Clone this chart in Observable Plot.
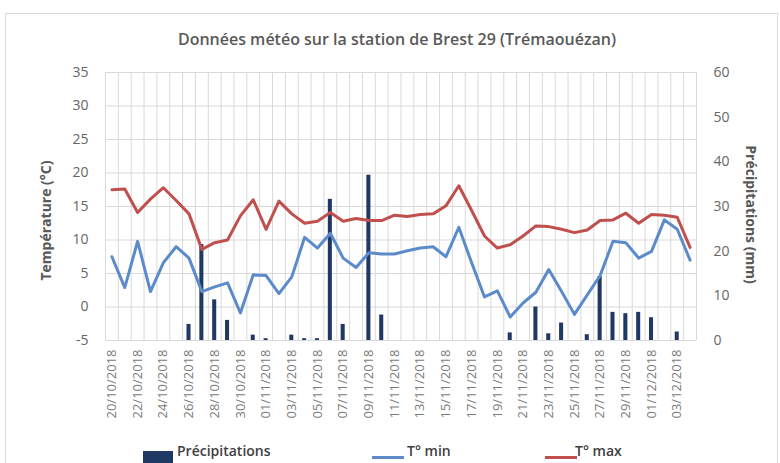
<!DOCTYPE html>
<html><head><meta charset="utf-8">
<script src="https://cdn.jsdelivr.net/npm/d3@7"></script>
<script src="https://cdn.jsdelivr.net/npm/@observablehq/plot@0.6"></script>
<style>
html,body{margin:0;padding:0;background:#fff;overflow:hidden}
#wrap{position:relative;width:780px;height:463px;overflow:hidden;font-family:"Open Sans",sans-serif}
#frame{position:absolute;left:5px;top:13px;width:773px;height:470px;border:1px solid #d9d9d9;box-sizing:border-box}
#chart{position:absolute;left:0;top:0}
#title{position:absolute;left:0;width:794px;top:28px;text-align:center;font-size:16px;font-weight:600;color:#595959;white-space:nowrap}
.ytitle{position:absolute;font-size:14px;font-weight:700;color:#595959;white-space:nowrap;transform-origin:center center}
.leg{position:absolute;top:441px;font-size:14px;font-weight:600;color:#404040;line-height:20px;white-space:nowrap}
.sw{position:absolute}
</style>
</head><body>
<div id="wrap">
  <div id="frame"></div>
  <div id="chart"></div>
  <div id="title"></div>
  <div id="ytl" class="ytitle"></div>
  <div id="ytr" class="ytitle"></div>
  <div id="legend"></div>
</div>
<script>
const dates = ["20/10/2018","21/10/2018","22/10/2018","23/10/2018","24/10/2018","25/10/2018","26/10/2018","27/10/2018","28/10/2018","29/10/2018","30/10/2018","31/10/2018",
"01/11/2018","02/11/2018","03/11/2018","04/11/2018","05/11/2018","06/11/2018","07/11/2018","08/11/2018","09/11/2018","10/11/2018","11/11/2018","12/11/2018","13/11/2018","14/11/2018","15/11/2018","16/11/2018","17/11/2018","18/11/2018","19/11/2018","20/11/2018","21/11/2018","22/11/2018","23/11/2018","24/11/2018","25/11/2018","26/11/2018","27/11/2018","28/11/2018","29/11/2018","30/11/2018",
"01/12/2018","02/12/2018","03/12/2018","04/12/2018"];
const tmin = [7.5,2.9,9.8,2.3,6.6,9.0,7.3,2.3,3.0,3.6,-0.9,4.8,4.7,2.0,4.5,10.4,8.8,11.0,7.3,5.9,8.1,7.9,7.9,8.4,8.8,9.0,7.5,11.9,6.6,1.5,2.4,-1.5,0.6,2.2,5.6,2.3,-1.1,1.8,4.7,9.8,9.6,7.3,8.3,13.0,11.6,7.0];
const tmax = [17.5,17.6,14.1,16.1,17.8,15.9,13.9,8.6,9.6,10.0,13.6,16.0,11.6,15.8,13.9,12.5,12.8,14.1,12.8,13.2,12.9,12.9,13.7,13.5,13.8,13.9,15.1,18.1,14.4,10.6,8.8,9.3,10.6,12.1,12.0,11.6,11.1,11.5,12.9,13.0,14.0,12.5,13.8,13.7,13.4,8.9];
const precip = [0,0,0,0,0,0,3.6,21.5,9.1,4.5,0,1.2,0.4,0,1.2,0.4,0.4,31.6,3.6,0,37.0,5.7,0,0,0,0,0,0,0,0,0,1.7,0,7.5,1.5,3.9,0,1.3,14.3,6.3,6.0,6.3,5.1,0,1.9,0];
const tempTicks = [-5,0,5,10,15,20,25,30,35];
const precipTicks = [0,10,20,30,40,50,60];
const labelIdx = dates.map((d,i)=>i).filter(i=>i%2===0);
const titleText = "Données météo sur la station de Brest 29 (Trémaouézan)";
const yLeftTitle = "Température (°C)";
const yRightTitle = "Précipitations (mm)";
const seriesNames = ["Précipitations","T° min","T° max"];
const colors = {p:"#203864", tmin:"#5b8bcb", tmax:"#c0504d"};

// precipitation axis (0..60) mapped onto temperature axis (-5..35)
const toT = p => -5 + p * 40 / 60;
const fromT = t => (t + 5) * 60 / 40;

const rows = dates.map((d,i)=>({i, date:d, tmin:tmin[i], tmax:tmax[i], p:precip[i]}));
const bounds = d3.range(dates.length + 1).map(i => i - 0.5);

const chart = Plot.plot({
  width:780, height:463,
  marginLeft:105, marginRight:84, marginTop:72, marginBottom:123,
  x:{type:"linear", domain:[-0.5, dates.length-0.5], axis:null},
  y:{domain:[-5,35], axis:null},
  style:{fontFamily:"Open Sans, sans-serif", fontSize:"13px", color:"#595959", background:"transparent", overflow:"visible"},
  marks:[
    Plot.ruleY(tempTicks, {stroke:"#d9d9d9", strokeWidth:1}),
    Plot.ruleX(bounds, {stroke:"#d9d9d9", strokeWidth:1}),
    Plot.rect(rows.filter(r=>r.p>0), {x1:r=>r.i-0.5, x2:r=>r.i+0.5, y1:r=>toT(0), y2:r=>toT(r.p), fill:colors.p, insetLeft:4.4, insetRight:4.4}),
    Plot.line(rows, {x:"i", y:"tmin", stroke:colors.tmin, strokeWidth:3}),
    Plot.line(rows, {x:"i", y:"tmax", stroke:colors.tmax, strokeWidth:3}),
    Plot.axisY(tempTicks, {anchor:"left", tickSize:0, tickPadding:17, label:null, fontSize:14, fill:"#666", tickFormat:t=>String(t)}),
    Plot.axisY(precipTicks.map(toT), {anchor:"right", tickSize:0, tickPadding:17, label:null, fontSize:14, fill:"#666", tickFormat:t=>String(Math.round(fromT(t)))}),
    Plot.axisX(labelIdx, {anchor:"bottom", tickSize:0, tickPadding:9, tickRotate:-90, label:null, fontSize:13, fill:"#7a7a7a", tickFormat:i=>dates[i]})
  ]
});
document.getElementById("chart").appendChild(chart);
document.getElementById("title").textContent = titleText;

const ytl = document.getElementById("ytl");
ytl.textContent = yLeftTitle;
const ytr = document.getElementById("ytr");
ytr.textContent = yRightTitle;
function placeRot(el, cx, cy, deg){
  const w = el.offsetWidth, h = el.offsetHeight;
  el.style.left = (cx - w/2) + "px";
  el.style.top = (cy - h/2) + "px";
  el.style.transform = "rotate(" + deg + "deg)";
}
placeRot(ytl, 45, 220, -90);
placeRot(ytr, 751, 214, 90);

const legend = document.getElementById("legend");
const items = [
  {name:seriesNames[0], type:"box", color:colors.p, sx:143, tx:177},
  {name:seriesNames[1], type:"line", color:colors.tmin, sx:372, tx:407},
  {name:seriesNames[2], type:"line", color:colors.tmax, sx:545, tx:575}
];
items.forEach(it=>{
  const sw = document.createElement("div");
  sw.className = "sw";
  sw.style.background = it.color;
  if (it.type === "box") { sw.style.left = it.sx+"px"; sw.style.top = "451px"; sw.style.width = "30px"; sw.style.height = "14px"; }
  else { sw.style.left = it.sx+"px"; sw.style.top = "456px"; sw.style.width = "32px"; sw.style.height = "3px"; }
  legend.appendChild(sw);
  const t = document.createElement("div");
  t.className = "leg";
  t.style.left = it.tx + "px";
  t.textContent = it.name;
  legend.appendChild(t);
});
</script>
</body></html>
